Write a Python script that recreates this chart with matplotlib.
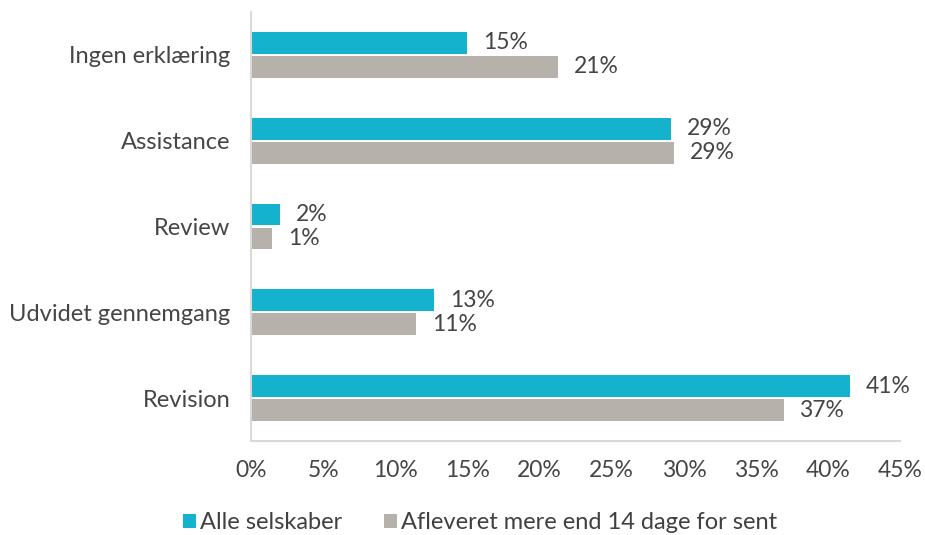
import numpy as np
import matplotlib
matplotlib.use("Agg")
import matplotlib.pyplot as plt
from matplotlib import rcParams

rcParams.update({
    "font.family": ["Lato", "DejaVu Sans"],
    "font.weight": "normal",
    "font.size": 16,
    "text.color": "#404040",
})

TEAL, GREY, INK, AXIS = "#14B2CC", "#B6B1AA", "#454545", "#D9D9D9"

# ---- data (top to bottom as shown) ----
categories = ["Ingen erklæring", "Assistance", "Review", "Udvidet gennemgang", "Revision"]
alle = [15.0, 29.1, 2.0, 12.7, 41.5]            # bar lengths, %
alle_lbl = [15, 29, 2, 13, 41]                  # printed labels
sent = [21.3, 29.3, 1.45, 11.45, 36.9]
sent_lbl = [21, 29, 1, 11, 37]
series_names = ["Alle selskaber", "Afleveret mere end 14 dage for sent"]
xticks = np.arange(0, 50, 5)

FS = 16.5

fig = plt.figure(figsize=(9.25, 5.35), dpi=100)
ax = fig.add_axes([0.2714, 0.1757, 0.702, 0.802])

y = np.arange(len(categories))[::-1]
h, off = 0.255, 0.14
b1 = ax.barh(y + off, alle, height=h, color=TEAL, label=series_names[0])
b2 = ax.barh(y - off, sent, height=h, color=GREY, label=series_names[1])

for yi, v, s in zip(y, alle, alle_lbl):
    ax.text(v + 1.1, yi + off, f"{s}%", va="center", ha="left", fontsize=FS, color=INK)
for yi, v, s in zip(y, sent, sent_lbl):
    ax.text(v + 1.1, yi - off, f"{s}%", va="center", ha="left", fontsize=FS, color=INK)

ax.set_xlim(0, 45)
ax.set_ylim(-0.5, 4.5)
ax.set_xticks(xticks)
ax.set_xticklabels([f"{t}%" for t in xticks])
ax.set_yticks(y)
ax.set_yticklabels(categories, fontsize=17)
ax.tick_params(axis="x", length=0, labelsize=FS, colors=INK, pad=14)
ax.tick_params(axis="y", length=0, colors=INK, pad=15)
for sp in ["top", "right"]:
    ax.spines[sp].set_visible(False)
for sp in ["left", "bottom"]:
    ax.spines[sp].set_color(AXIS)
    ax.spines[sp].set_linewidth(1.5)

fig.legend(handles=[b1, b2], loc="lower center", bbox_to_anchor=(0.519, -0.036), ncol=2,
           frameon=False, handlelength=0.55, handleheight=0.55, handletextpad=0.15,
           columnspacing=1.8, fontsize=17)

fig.savefig("out.png", dpi=100)
